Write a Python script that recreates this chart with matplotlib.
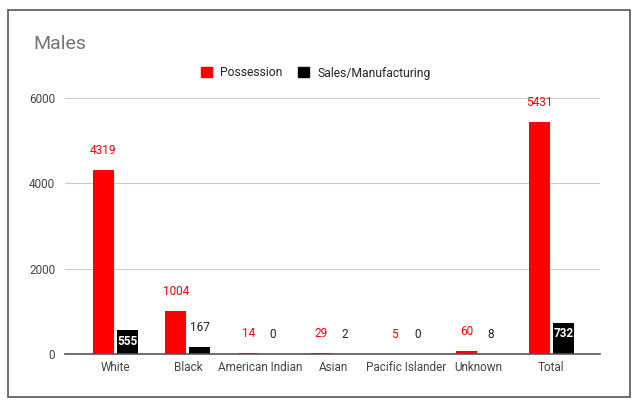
import matplotlib.pyplot as plt
import numpy as np
from matplotlib.patches import Rectangle, Patch

plt.rcParams['font.family'] = ['Roboto', 'DejaVu Sans']

categories = ['White', 'Black', 'American Indian', 'Asian', 'Pacific Islander', 'Unknown', 'Total']
possession = [4319, 1004, 14, 29, 5, 60, 5431]
sales = [555, 167, 0, 2, 0, 8, 732]

red = '#ff0000'
black = '#000000'

fig = plt.figure(figsize=(6.37, 4.03), dpi=100)
ax = fig.add_axes([65 / 637, 1 - 354 / 403, 535 / 637, 256 / 403])

x = np.arange(len(categories))
w = 0.29
gap = 0.02
ax.bar(x - w / 2 - gap, possession, w, color=red)
ax.bar(x + w / 2 + gap, sales, w, color=black)

ax.set_xlim(-0.69, 6.67)
ax.set_ylim(0, 6000)
ax.set_yticks([0, 2000, 4000, 6000])
ax.set_xticks(x)
ax.set_xticklabels(categories)
ax.tick_params(length=0, labelsize=8.5, labelcolor='#444444')
ax.tick_params(axis='y', pad=7)
ax.tick_params(axis='x', pad=5)
ax.grid(axis='y', color='#cccccc', linewidth=0.8)
ax.set_axisbelow(True)
for s in ['top', 'right', 'left']:
    ax.spines[s].set_visible(False)
ax.spines['bottom'].set_color('#555555')
ax.spines['bottom'].set_linewidth(1.2)

# data labels
for i in range(len(categories)):
    ax.annotate(str(possession[i]), (x[i] - w / 2 - gap, possession[i]), xytext=(0, 14),
                textcoords='offset points', ha='center', va='center', fontsize=8.5, color=red)
    if sales[i] > 400:
        ax.annotate(str(sales[i]), (x[i] + w / 2 + gap, sales[i]), xytext=(0, -8),
                    textcoords='offset points', ha='center', va='center', fontsize=8.5,
                    color='white', fontweight='bold')
    else:
        ax.annotate(str(sales[i]), (x[i] + w / 2 + gap, sales[i]), xytext=(0, 14),
                    textcoords='offset points', ha='center', va='center', fontsize=8.5,
                    color='#222222')

fig.text(33 / 637, 1 - 44 / 403, 'Males', fontsize=14, color='#757575', va='center', ha='left')

handles = [Patch(color=red, label='Possession'), Patch(color=black, label='Sales/Manufacturing')]
fig.legend(handles=handles, loc='center', bbox_to_anchor=(316 / 637, 1 - 73 / 403), ncol=2,
           frameon=False, fontsize=8.7, handlelength=0.9, handleheight=0.9,
           handletextpad=0.7, columnspacing=1.3, labelcolor='#222222')

fig.patches.append(Rectangle((8 / 637, 1 - 397 / 403), 622 / 637, 387 / 403,
                             transform=fig.transFigure, fill=False, edgecolor='#555555',
                             linewidth=1.2))

fig.savefig('out.png', dpi=100)
